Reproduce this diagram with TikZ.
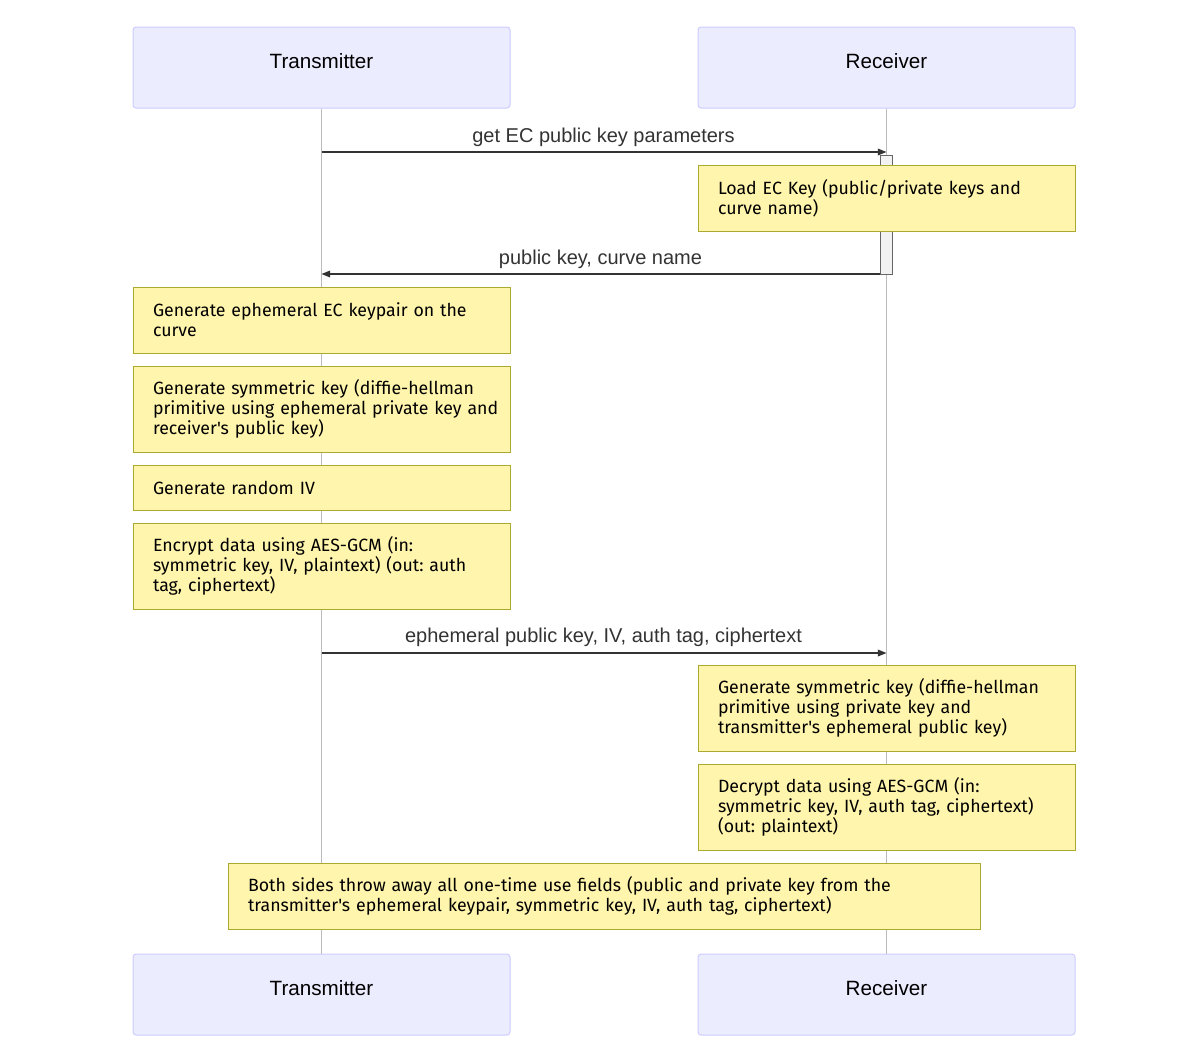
\documentclass[tikz,border=0pt]{standalone}
\usepackage{fontspec}
\usetikzlibrary{arrows.meta}
\newfontfamily\actfont{Liberation Sans}
\newfontfamily\notefont{Fira Sans}
\definecolor{actfill}{HTML}{ECECFF}
\definecolor{actdraw}{HTML}{CCCCFF}
\definecolor{notefill}{HTML}{FFF5AD}
\definecolor{notedraw}{HTML}{AAAA33}
\definecolor{lifeln}{HTML}{BBBBBB}
\definecolor{msgln}{HTML}{333333}
\tikzset{
  actor/.style={draw=actdraw, fill=actfill, line width=0.75pt, rounded corners=2.25pt,
    minimum width=282.75pt, minimum height=60.75pt, inner sep=0pt},
  actlabel/.style={font=\actfont\fontsize{15.5}{18}\selectfont, text=black, inner sep=0pt},
  note/.style={draw=notedraw, fill=notefill, line width=0.75pt, inner xsep=15pt, inner ysep=0pt,
    text width=252.75pt, align=left, font=\notefont\fontsize{13.3}{15}\selectfont\frenchspacing, text=black},
  lifeline/.style={draw=lifeln, line width=0.75pt},
  msg/.style={draw=msgln, line width=1pt, -{Triangle[length=6.5pt,width=5pt]}},
  msglabel/.style={font=\actfont\fontsize{15}{17}\selectfont, text=msgln, inner sep=0pt},
  activation/.style={draw=black!60, fill=black!5, line width=0.75pt, minimum width=9pt, minimum height=89.25pt, inner sep=0pt}
}
\begin{document}
\begin{tikzpicture}[x=0.75pt, y=-0.75pt]
\useasboundingbox (0,0) rectangle (1200,1051);
% actors
\node[actor] (tTop) at (321.5,67.5) {};
\node[actor] (rTop) at (886.5,67.5) {};
\node[actor] (tBot) at (321.5,994.5) {};
\node[actor] (rBot) at (886.5,994.5) {};
\node[actlabel] (tTopL) at (321.5,61) {Transmitter};
\node[actlabel] (rTopL) at (886.5,61) {Receiver};
\node[actlabel] (tBotL) at (321.5,988) {Transmitter};
\node[actlabel] (rBotL) at (886.5,988) {Receiver};
% lifelines
\draw[lifeline] (tTop.south) -- (tBot.north);
\draw[lifeline] (rTop.south) -- (rBot.north);

% message 1
\coordinate (m1s) at (321.5,152);
\coordinate (m1e) at (886.5,152);
\node[activation] (act) at (886,214.5) {};
\draw[msg] (m1s) -- (m1e);
\node[msglabel] (m1l) at (603.5,137) {get EC public key parameters};

\node[note, minimum height=49.5pt] (r1) at (886.5,198) {Load EC Key (public/private keys and\\curve name)};

% message 2
\coordinate (m2s) at (880,274);
\coordinate (m2e) at (321.5,274);
\draw[msg] (m2s) -- (m2e);
\node[msglabel] (m2l) at (600.5,259) {public key, curve name};

\node[note, minimum height=49.5pt] (t1) at (321.5,320) {Generate ephemeral EC keypair on the\\curve};
\node[note, minimum height=64.5pt] (t2) at (321.5,409) {Generate symmetric key (diffie-hellman\\\mbox{primitive using ephemeral private key and}\\receiver's public key)};
\node[note, minimum height=33.75pt] (t3) at (321.5,487.5) {Generate random IV};
\node[note, minimum height=64.5pt] (t4) at (321.5,566) {Encrypt data using AES-GCM (in:\\symmetric key, IV, plaintext) (out: auth\\tag, ciphertext)};

% message 3
\coordinate (m3s) at (321.5,653);
\coordinate (m3e) at (886.5,653);
\draw[msg] (m3s) -- (m3e);
\node[msglabel] (m3l) at (603.5,637) {ephemeral public key, IV, auth tag, ciphertext};

\node[note, minimum height=64.5pt] (r2) at (886.5,708) {Generate symmetric key (diffie-hellman\\primitive using private key and\\transmitter's ephemeral public key)};
\node[note, minimum height=64.5pt] (r3) at (886.5,807) {Decrypt data using AES-GCM (in:\\\mbox{symmetric key, IV, auth tag, ciphertext)}\\(out: plaintext)};

\node[note, text width=534pt, minimum height=49.5pt] (both) at (604,896) {Both sides throw away all one-time use fields (public and private key from the\\transmitter's ephemeral keypair, symmetric key, IV, auth tag, ciphertext)};
\end{tikzpicture}
\end{document}
